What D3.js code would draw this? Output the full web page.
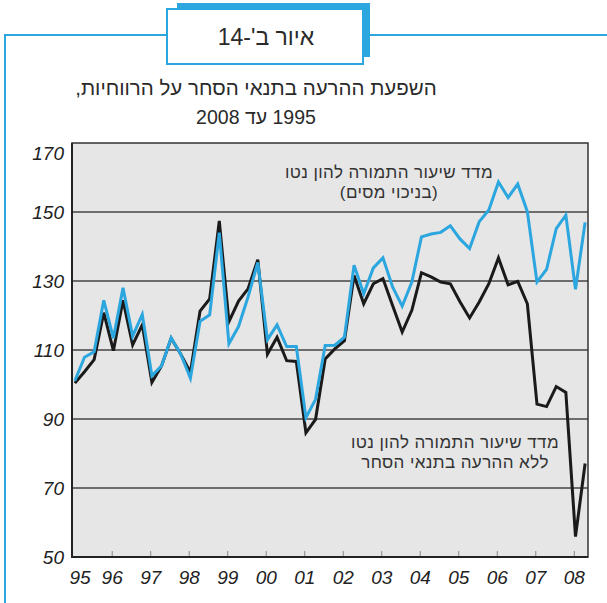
<!DOCTYPE html>
<html lang="he">
<head>
<meta charset="utf-8">
<script src="https://cdn.jsdelivr.net/npm/d3@7/dist/d3.min.js"></script>
<style>
  html, body { margin: 0; padding: 0; background: #fff; }
  svg { display: block; font-family: "Liberation Sans", "DejaVu Sans", sans-serif; }
</style>
</head>
<body>
<div id="chart"></div>
<script>
// quarterly index, 1995Q1 .. 2008Q2
const yearLabels = ["95", "96", "97", "98", "99", "00", "01", "02", "03", "04", "05", "06", "07", "08"];
const yTicks = [50, 70, 90, 110, 130, 150, 170];

// net return on capital index, net of taxes (blue)
const withTax = [
  101.1, 107.9, 109.5, 124.4, 113.4, 128.0, 114.0, 120.3,
  102.5, 105.4, 113.5, 108.8, 101.8, 118.3, 120.2, 144.0,
  111.8, 116.8, 125.5, 135.4, 113.0, 117.3, 111.0, 111.0,
  90.4, 95.7, 111.3, 111.4, 113.7, 134.6, 126.3, 133.8,
  136.7, 128.3, 122.7, 129.7, 142.8, 143.6, 144.1, 146.0,
  142.2, 139.4, 147.2, 150.6, 158.7, 154.2, 158.1, 150.1,
  129.7, 133.4, 145.2, 149.1, 127.6, 147.0
];
// same index without the terms-of-trade deterioration (black)
const noTot = [
  100.4, 103.7, 107.2, 120.8, 109.8, 124.4, 111.5, 117.3,
  100.6, 105.4, 113.4, 108.8, 103.5, 121.3, 124.8, 147.4,
  118.2, 124.2, 127.8, 136.2, 108.8, 113.7, 106.9, 106.7,
  86.0, 89.9, 107.4, 110.3, 112.7, 131.6, 123.4, 129.2,
  130.7, 122.9, 115.2, 121.5, 132.4, 131.2, 129.7, 129.2,
  124.0, 119.3, 123.9, 129.2, 136.7, 128.9, 129.9, 123.4,
  94.3, 93.6, 99.4, 97.7, 55.9, 77.1
];

const W = 607, H = 603;
const BLUE = "#2ba6de";
const m = { l: 72, r: 588, t: 143, b: 557 };

const svg = d3.select("#chart").append("svg").attr("width", W).attr("height", H);

// --- outer frame + figure number box ---
svg.append("line").attr("x1", 5).attr("x2", W).attr("y1", 35).attr("y2", 35)
  .attr("stroke", BLUE).attr("stroke-width", 2);
svg.append("line").attr("x1", 5).attr("x2", 5).attr("y1", 34).attr("y2", H)
  .attr("stroke", BLUE).attr("stroke-width", 2);
svg.append("rect").attr("x", 177).attr("y", 3).attr("width", 193).attr("height", 54).attr("fill", BLUE);
svg.append("rect").attr("x", 167).attr("y", 9).attr("width", 196).attr("height", 55)
  .attr("fill", "#fff").attr("stroke", BLUE).attr("stroke-width", 2);
svg.append("text").attr("x", 266).attr("y", 45).attr("text-anchor", "middle")
  .attr("direction", "rtl").style("font-size", "23px").attr("fill", "#2a2a2a")
  .text("איור ב'-14");

// --- title ---
svg.append("text").attr("x", 256).attr("y", 95).attr("text-anchor", "middle")
  .attr("direction", "rtl").style("font-size", "20.5px").attr("fill", "#2a2a2a")
  .text("השפעת ההרעה בתנאי הסחר על הרווחיות,");
svg.append("text").attr("x", 256).attr("y", 124).attr("text-anchor", "middle")
  .attr("direction", "rtl").style("font-size", "19.5px").attr("fill", "#2a2a2a")
  .text("1995 עד 2008");

// --- scales ---
const x = d3.scaleLinear().domain([-0.3, 53.3]).range([m.l, m.r]);
const y = d3.scaleLinear().domain([50, 170]).range([m.b, m.t]);

svg.append("rect").attr("x", m.l).attr("y", m.t).attr("width", m.r - m.l).attr("height", m.b - m.t)
  .attr("fill", "#e6e6e6");

// gridlines
svg.append("g").selectAll("line").data(yTicks.filter((v) => v > 50 && v < 170)).enter().append("line")
  .attr("x1", m.l).attr("x2", m.r).attr("y1", (d) => y(d)).attr("y2", (d) => y(d))
  .attr("stroke", "#444").attr("stroke-width", 1.5);

// year ticks along the bottom (inside the plot)
const tickPos = yearLabels.map((_, i) => i * 4 - 0.125);
svg.append("g").selectAll("line").data(tickPos.slice(1)).enter().append("line")
  .attr("x1", (d) => x(d)).attr("x2", (d) => x(d)).attr("y1", m.b).attr("y2", m.b - 6)
  .attr("stroke", "#888").attr("stroke-width", 1);

// plot border
svg.append("rect").attr("x", m.l).attr("y", m.t).attr("width", m.r - m.l).attr("height", m.b - m.t)
  .attr("fill", "none").attr("stroke", "#333").attr("stroke-width", 1.5);
svg.append("path").attr("d", `M${m.l},${m.t}V${m.b}H${m.r}`)
  .attr("fill", "none").attr("stroke", "#222").attr("stroke-width", 2);

// axis labels
svg.append("g").selectAll("text").data(yTicks).enter().append("text")
  .attr("x", 64).attr("y", (d) => y(d) + (d === 170 ? 17 : 7))
  .attr("text-anchor", "end").style("font-size", "19px").style("font-style", "italic")
  .attr("fill", "#222").text((d) => d);
svg.append("g").selectAll("text").data(yearLabels).enter().append("text")
  .attr("x", (d, i) => Math.max(x(tickPos[i]), 80)).attr("y", 584)
  .attr("text-anchor", "middle").style("font-size", "19px").style("font-style", "italic")
  .attr("fill", "#222").text((d) => d);

// series
const line = d3.line().x((d, i) => x(i)).y((d) => y(d));
svg.append("path").datum(noTot).attr("d", line).attr("fill", "none")
  .attr("stroke", "#1a1a1a").attr("stroke-width", 3).attr("stroke-linejoin", "miter");
svg.append("path").datum(withTax).attr("d", line).attr("fill", "none")
  .attr("stroke", BLUE).attr("stroke-width", 3).attr("stroke-linejoin", "miter");

// series annotations
function note(cx, cy, lines) {
  lines.forEach((t, k) =>
    svg.append("text").attr("x", cx).attr("y", cy + k * 20).attr("text-anchor", "middle")
      .attr("direction", "rtl").style("font-size", "17px").style("letter-spacing", "0.4px")
      .attr("fill", "#333").text(t));
}
note(389, 178, ["מדד שיעור התמורה להון נטו", "(בניכוי מסים)"]);
note(455, 448, ["מדד שיעור התמורה להון נטו", "ללא ההרעה בתנאי הסחר"]);
</script>
</body>
</html>
